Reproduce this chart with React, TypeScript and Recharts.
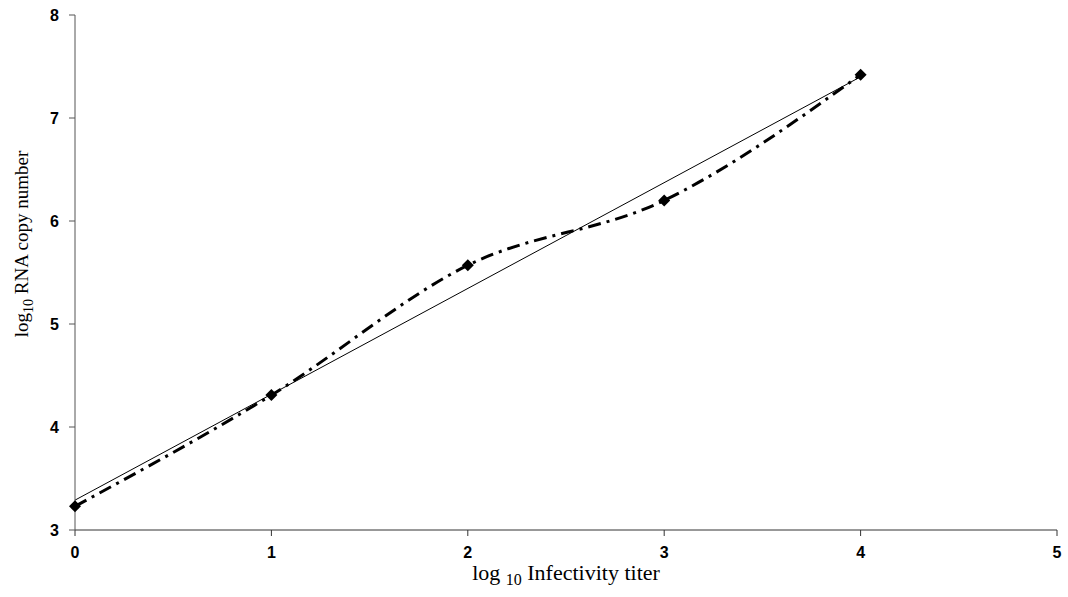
import { LineChart, Line, XAxis, YAxis } from "recharts";

// measured titers (log10) vs RNA copy number (log10)
const titers = [0, 1, 2, 3, 4];
const copies = [3.23, 4.31, 5.57, 6.2, 7.42];

// linear trendline endpoints
const trendX = [0, 4];
const trendY = [3.29, 7.4];

const xTicks = [0, 1, 2, 3, 4, 5];
const yTicks = [3, 4, 5, 6, 7, 8];

const measured = titers.map((x, i) => ({ x, y: copies[i] }));
const trend = trendX.map((x, i) => ({ x, y: trendY[i] }));

const Diamond = (props: any) => {
  const { cx, cy, index } = props;
  if (cx == null || cy == null) return null;
  const r = 6;
  return (
    <polygon
      key={`d-${index}`}
      points={`${cx},${cy - r} ${cx + r},${cy} ${cx},${cy + r} ${cx - r},${cy}`}
      fill="#000"
    />
  );
};

const XTitle = ({ viewBox }: any) => {
  const { x, y, width } = viewBox;
  return (
    <text
      x={x + width / 2}
      y={y + 50}
      textAnchor="middle"
      fontFamily="Liberation Serif, Times New Roman, serif"
      fontSize={22}
      fill="#000"
    >
      log <tspan fontSize={16} dy={5}>10</tspan>
      <tspan dy={-5}> Infectivity titer</tspan>
    </text>
  );
};

const YTitle = ({ viewBox }: any) => {
  const { y } = viewBox;
  const cx = 28;
  const cy = y + 229;
  return (
    <text
      x={cx}
      y={cy}
      transform={`rotate(-90, ${cx}, ${cy})`}
      textAnchor="middle"
      fontFamily="Liberation Serif, Times New Roman, serif"
      fontSize={19}
      fill="#000"
    >
      log<tspan fontSize={14} dy={5}>10</tspan>
      <tspan dy={-5}> RNA copy number</tspan>
    </text>
  );
};

const tickStyle = {
  fontFamily: "Liberation Sans, Arial, sans-serif",
  fontSize: 16,
  fontWeight: "bold" as const,
  fill: "#000",
};

export default function App() {
  return (
    <div style={{ position: "absolute", left: 0, top: 0, background: "#fff" }}>
      <LineChart
        width={1068}
        height={597}
        margin={{ top: 15, right: 11, left: 0, bottom: 0 }}
      >
        <XAxis
          dataKey="x"
          type="number"
          domain={[0, 5]}
          ticks={xTicks}
          allowDuplicatedCategory={false}
          height={67}
          stroke="#333"
          tickSize={6}
          tick={tickStyle}
          tickMargin={11}
          label={<XTitle />}
        />
        <YAxis
          dataKey="y"
          type="number"
          domain={[3, 8]}
          ticks={yTicks}
          width={75}
          stroke="#555"
          tickSize={6}
          tick={tickStyle}
          tickMargin={10}
          label={<YTitle />}
        />
        <Line
          data={trend}
          dataKey="y"
          type="linear"
          stroke="#000"
          strokeWidth={1}
          dot={false}
          isAnimationActive={false}
        />
        <Line
          data={measured}
          dataKey="y"
          type="monotone"
          stroke="#000"
          strokeWidth={3}
          strokeDasharray="13 6 3 6"
          dot={<Diamond />}
          activeDot={false}
          isAnimationActive={false}
        />
      </LineChart>
    </div>
  );
}
